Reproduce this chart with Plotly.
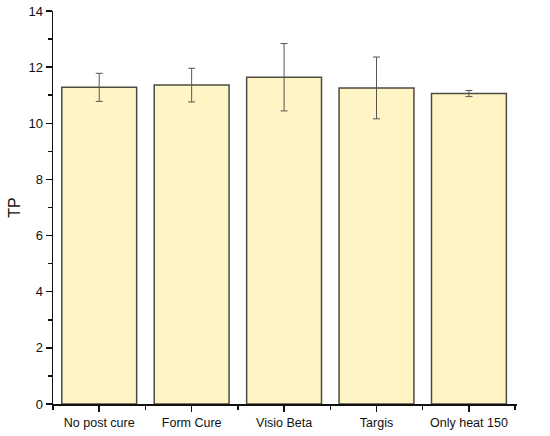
import plotly.graph_objects as go

categories = ["No post cure", "Form Cure", "Visio Beta", "Targis", "Only heat 150"]
values = [11.28, 11.36, 11.64, 11.26, 11.06]
errors = [0.50, 0.60, 1.20, 1.10, 0.11]
y_ticks = [0, 2, 4, 6, 8, 10, 12, 14]

xpos = list(range(len(categories)))

fig = go.Figure()
fig.add_trace(go.Bar(
    x=xpos, y=values,
    width=0.81,
    marker=dict(color="#FFF5C4", line=dict(color="#4D4B3F", width=1.5)),
    error_y=dict(type="data", array=errors, visible=True,
                 color="#555555", thickness=1, width=3.5),
))

font = "Liberation Sans, Arial, sans-serif"
fig.update_layout(
    width=550, height=436,
    margin=dict(l=53, r=33, t=11, b=32),
    paper_bgcolor="white", plot_bgcolor="white",
    showlegend=False,
    font=dict(family=font, size=12.5, color="#111111"),
    xaxis=dict(
        range=[-0.5, 4.52], tickmode="array", tickvals=xpos, ticktext=categories,
        automargin=False,
        showline=True, linecolor="#111111", linewidth=1.5,
        ticks="outside", ticklen=6, tickwidth=1.5, tickcolor="#111111",
        showgrid=False, zeroline=False,
        minor=dict(tickvals=[-0.5, 0.5, 1.5, 2.5, 3.5, 4.5], ticks="outside",
                   ticklen=4, tickwidth=1.5, tickcolor="#111111", showgrid=False),
        tickfont=dict(size=12.5, family=font),
    ),
    yaxis=dict(
        range=[0, 14], tickmode="array", tickvals=y_ticks,
        automargin=False,
        showline=True, linecolor="#111111", linewidth=1.5,
        ticks="outside", ticklen=6, tickwidth=1.5, tickcolor="#111111",
        showgrid=False, zeroline=False,
        minor=dict(tickvals=[1, 3, 5, 7, 9, 11, 13], ticks="outside",
                   ticklen=4, tickwidth=1.5, tickcolor="#111111", showgrid=False),
        title=dict(text="TP", font=dict(size=16, family=font), standoff=4),
        tickfont=dict(size=13, family=font),
    ),
)

fig.write_html(
    "out.html",
    config={"displayModeBar": False, "staticPlot": True},
    post_script="document.body.style.margin='0';document.body.style.overflow='hidden';",
)
